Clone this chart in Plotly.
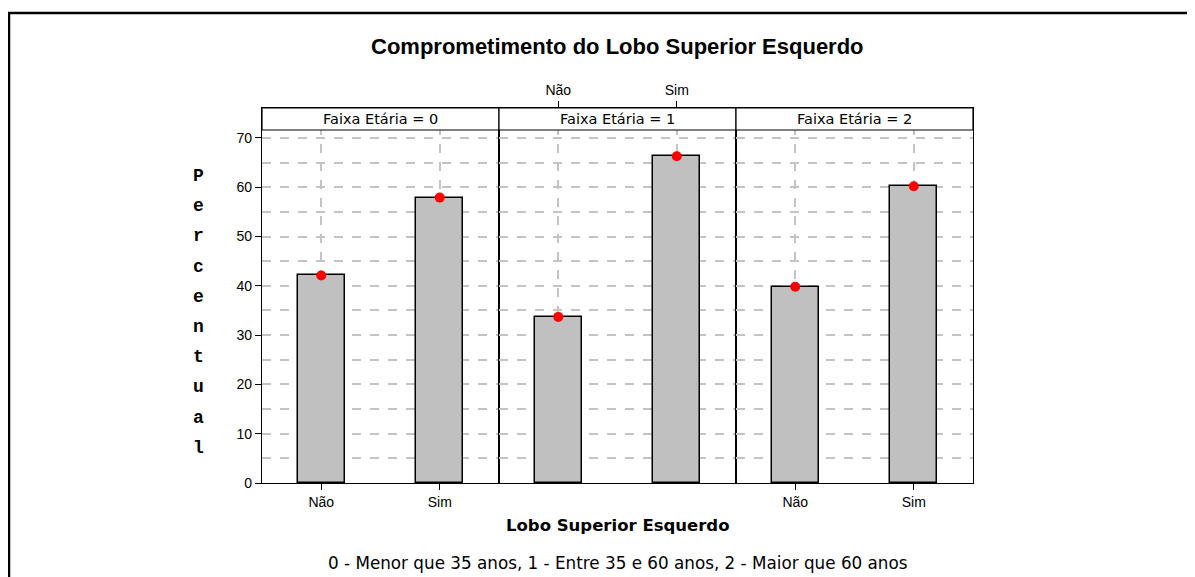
import plotly.graph_objects as go
from plotly.subplots import make_subplots

# data
categorias = ["Não", "Sim"]
faixas = ["0", "1", "2"]
percentual_faixa0 = [42.1, 57.9]
percentual_faixa1 = [33.7, 66.3]
percentual_faixa2 = [39.8, 60.2]
y_ticks = [0, 10, 20, 30, 40, 50, 60, 70]

titulo = "Comprometimento do Lobo Superior Esquerdo"
titulo_x = "Lobo Superior Esquerdo"
titulo_y = "Percentual"
rodape = "0 - Menor que 35 anos, 1 - Entre 35 e 60 anos, 2 - Maior que 60 anos"

valores = [percentual_faixa0, percentual_faixa1, percentual_faixa2]

Y_MAX = 76.08
STRIP_LO = 71.62
GRID = "#c4c4c4"
FONT = "Liberation Sans"


def px_x(x):
    # page pixel -> paper x
    return (x - 262) / 711


def px_y(y):
    # page pixel -> paper y
    return (483 - y) / 375


def texto(fig, text, x, y, font):
    fig.add_annotation(
        text=text,
        xref="paper",
        yref="paper",
        x=x,
        y=y,
        xanchor="center",
        yanchor="middle",
        showarrow=False,
        font=font,
    )


fig = make_subplots(rows=1, cols=3, horizontal_spacing=0, shared_yaxes=True)

for i, (faixa, vals) in enumerate(zip(faixas, valores)):
    col = i + 1
    fig.add_bar(
        x=categorias,
        y=vals,
        width=0.4,
        marker=dict(color="#c0c0c0", line=dict(color="black", width=1.5)),
        row=1,
        col=col,
    )
    fig.add_scatter(
        x=categorias,
        y=vals,
        mode="markers",
        marker=dict(color="red", size=10),
        row=1,
        col=col,
    )
    axis_sfx = "" if col == 1 else str(col)
    # strip header
    fig.add_shape(
        type="rect",
        xref=f"x{axis_sfx} domain",
        yref=f"y{axis_sfx}",
        x0=0,
        x1=1,
        y0=STRIP_LO,
        y1=Y_MAX,
        fillcolor="white",
        line=dict(color="black", width=1.2),
        layer="above",
    )
    fig.add_annotation(
        text=f"Faixa Etária = {faixa}",
        xref=f"x{axis_sfx} domain",
        yref=f"y{axis_sfx}",
        x=0.5,
        y=(STRIP_LO + Y_MAX) / 2,
        xanchor="center",
        yanchor="middle",
        showarrow=False,
        font=dict(family="DejaVu Sans", size=14.5, color="black"),
    )
    fig.update_xaxes(
        type="category",
        range=[-0.5, 1.5],
        showline=True,
        linecolor="black",
        linewidth=1.2,
        mirror=True,
        showgrid=True,
        gridcolor=GRID,
        griddash="dash",
        gridwidth=1.5,
        ticks="outside",
        ticklen=6,
        tickcolor="black",
        side="top" if col == 2 else "bottom",
        tickfont=dict(family=FONT, size=14, color="black"),
        zeroline=False,
        row=1,
        col=col,
    )
    fig.update_yaxes(
        range=[0, Y_MAX],
        tickvals=y_ticks,
        showline=True,
        linecolor="black",
        linewidth=1.2,
        mirror=True,
        showgrid=True,
        gridcolor=GRID,
        griddash="dash",
        gridwidth=1.5,
        minor=dict(dtick=5, showgrid=True, gridcolor=GRID, griddash="dash", gridwidth=1.5),
        ticks="outside" if col == 1 else "",
        ticklen=6,
        tickcolor="black",
        showticklabels=(col == 1),
        tickfont=dict(family=FONT, size=14, color="black"),
        zeroline=False,
        row=1,
        col=col,
    )

# vertical y-axis title, one letter per line
for k, letra in enumerate(titulo_y):
    texto(
        fig,
        letra,
        px_x(198),
        px_y(176 + k * 30.2),
        dict(family="Liberation Mono", size=18, color="black", weight="bold"),
    )

texto(fig, f"<b>{titulo}</b>", 0.5, px_y(46), dict(family=FONT, size=22, color="black"))
texto(
    fig,
    f"<b>{titulo_x}</b>",
    0.5,
    px_y(525),
    dict(family="DejaVu Sans", size=16.5, color="black"),
)
texto(fig, rodape, 0.5, px_y(563), dict(family="DejaVu Sans", size=16.8, color="black"))

# outer frame
fig.add_shape(
    type="rect",
    xref="paper",
    yref="paper",
    x0=px_x(9),
    x1=px_x(1220),
    y0=px_y(650),
    y1=px_y(13),
    line=dict(color="black", width=2.5),
    fillcolor="rgba(0,0,0,0)",
)

# page body has an 8px margin, so the figure is 8px smaller and offset
fig.update_layout(
    width=1187,
    height=569,
    margin=dict(l=254, r=222, t=100, b=94),
    plot_bgcolor="white",
    paper_bgcolor="white",
    showlegend=False,
    bargap=0,
)

fig.write_html("out.html")
